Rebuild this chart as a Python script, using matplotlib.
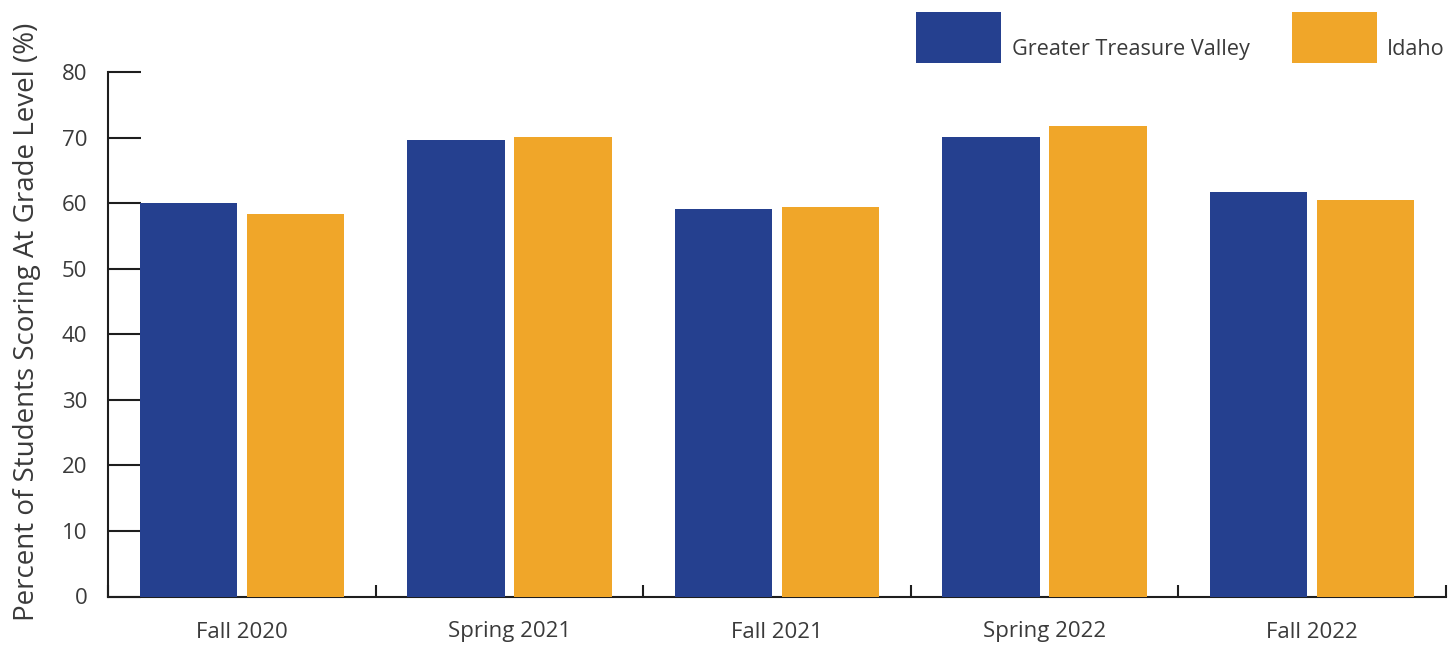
import numpy as np
import matplotlib
matplotlib.use("Agg")
import matplotlib.pyplot as plt
from matplotlib.patches import Rectangle

plt.rcParams['font.family'] = ['Open Sans', 'DejaVu Sans']

categories = ['Fall 2020', 'Spring 2021', 'Fall 2021', 'Spring 2022', 'Fall 2022']
series_names = ['Greater Treasure Valley', 'Idaho']
gtv = [60.1, 69.6, 59.1, 70.1, 61.7]
idaho = [58.4, 70.2, 59.4, 71.8, 60.5]
yticks = [0, 10, 20, 30, 40, 50, 60, 70, 80]

blue = '#25408f'
orange = '#f0a629'
txt = '#3a3a3a'
line_c = '#1e1e1e'

W, H = 1456, 648
fig = plt.figure(figsize=(W/100, H/100), dpi=100)
ax = fig.add_axes([108/W, 1-596.5/H, (1446-108)/W, (596.5-72.3)/H])

x = np.arange(len(categories)) + 0.5
w = 0.364
ax.bar(x - 0.2, gtv, w, color=blue, zorder=3)
ax.bar(x + 0.2, idaho, w, color=orange, zorder=3)

ax.set_xlim(0, len(categories))
ax.set_ylim(0, 80)

ax.spines['right'].set_visible(False)
ax.spines['top'].set_visible(False)
for s in ['left', 'bottom']:
    ax.spines[s].set_linewidth(1.5)
    ax.spines[s].set_color(line_c)

ax.set_yticks(yticks)
ax.tick_params(axis='y', direction='in', length=23.5, width=1.5, color=line_c,
               pad=15, labelsize=16, labelcolor=txt)

# category boundaries as ticks, labels on the centres
ax.set_xticks(np.arange(len(categories) + 1))
ax.set_xticklabels([])
ax.set_xticks(x, minor=True)
ax.set_xticklabels(categories, minor=True)
ax.tick_params(axis='x', which='major', direction='in', length=8.5, width=1.5, color=line_c)
ax.tick_params(axis='x', which='minor', length=0, pad=18, labelsize=16, labelcolor=txt)

ax.set_ylabel('Percent of Students Scoring At Grade Level (%)', fontsize=20, color=txt)
ax.yaxis.set_label_coords(-0.050, 0.524)

# legend drawn by hand: swatch on top, label sitting low beside it
legend_x = [(916, 1012), (1292, 1387)]
for (px, tx), name, col in zip(legend_x, series_names, [blue, orange]):
    fig.add_artist(Rectangle((px/W, 1-63/H), 85/W, 51/H, transform=fig.transFigure,
                             facecolor=col, edgecolor='none'))
    fig.text(tx/W, 1-55/H, name, fontsize=15.6, color=txt, va='baseline', ha='left')

fig.savefig('out.png', dpi=100)
